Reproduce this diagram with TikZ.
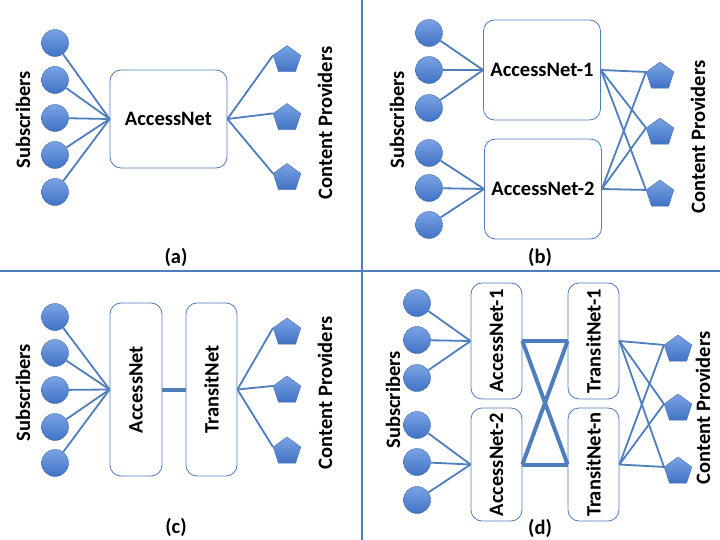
\documentclass[tikz,border=0pt]{standalone}
\usepackage{fontspec}
\setmainfont{Carlito}
\usetikzlibrary{shapes.geometric, positioning}
\definecolor{netblue}{RGB}{79, 126, 189}
\definecolor{dotlight}{RGB}{122, 163, 228}
\definecolor{dotdark}{RGB}{64, 114, 196}
\definecolor{dotedge}{RGB}{62, 106, 172}

\tikzset{
  sub/.style={circle, minimum size=27pt, inner sep=0pt, draw=dotedge, top color=dotlight, bottom color=dotdark},
  prov/.style={regular polygon, regular polygon sides=5, minimum size=29pt, inner sep=0pt, draw=dotedge, top color=dotlight, bottom color=dotdark},
  net/.style={draw=netblue, fill=white, rounded corners=11pt, inner sep=0pt, line width=0.8pt, font=\bfseries\fontsize{20.5}{24}\selectfont},
  link/.style={draw=netblue, line width=1.8pt},
  trunk/.style={draw=netblue, line width=4pt},
  side/.style={inner sep=0pt, font=\bfseries\fontsize{20.5}{24}\selectfont},
  tag/.style={inner sep=0pt, font=\bfseries\fontsize{20.5}{24}\selectfont},
}

\begin{document}
\begin{tikzpicture}[x=1pt, y=-1pt]
  \useasboundingbox (0,0) rectangle (720,540);
  % quadrant dividers
  \draw[netblue, line width=2.5pt] (0,271) -- (720,271);
  \draw[netblue, line width=2.5pt] (362,0) -- (362,540);

  % (a) one access network
  \node[net, minimum width=117pt, minimum height=98pt] (an) at (168.5,119) {AccessNet};
  \foreach \y [count=\i] in {43,80,118,155,192} {
    \node[sub] (as\i) at (55,\y) {};
    \draw[link] (as\i) -- (an.west);
  }
  \foreach \y [count=\i] in {60,118,178} {
    \node[prov] (ap\i) at (287,\y) {};
    \draw[link] (an.east) -- (ap\i.corner 2);
  }
  \node[side] (asub) at (23,120) {\rotatebox{90}{Subscribers}};
  \node[side] (acp) at (325,123) {\rotatebox{90}{Content Providers}};
  \node[tag] (atag) at (176,257) {(a)};

  % (b) two access networks
  \node[net, minimum width=117pt, minimum height=100pt] (bn1) at (542,70) {AccessNet-1};
  \node[net, minimum width=117pt, minimum height=100pt] (bn2) at (543,189) {AccessNet-2};
  \foreach \y [count=\i] in {33,70,108} {
    \node[sub] (bs\i) at (429,\y) {};
    \draw[link] (bs\i) -- (bn1.west);
  }
  \foreach \y [count=\i] in {153,188,225} {
    \node[sub] (bt\i) at (429,\y) {};
    \draw[link] (bt\i) -- (bn2.west);
  }
  \foreach \y [count=\i] in {76.5,132.5,194.5} {
    \node[prov] (bp\i) at (660,\y) {};
    \draw[link] (bn1.east) -- (bp\i.corner 2);
    \draw[link] (bn2.east) -- (bp\i.corner 2);
  }
  \node[side] (bsub) at (397,120) {\rotatebox{90}{Subscribers}};
  \node[side] (bcp) at (698,137) {\rotatebox{90}{Content Providers}};
  \node[tag] (btag) at (540,257) {(b)};

  % (c) access plus transit
  \node[net, minimum width=52pt, minimum height=173pt] (cn) at (136,389.5) {\rotatebox{90}{AccessNet}};
  \node[net, minimum width=51pt, minimum height=173pt] (ct) at (211.5,389.5) {\rotatebox{90}{TransitNet}};
  \draw[trunk] (cn.east) -- (ct.west);
  \foreach \y [count=\i] in {317,353,390,427,463} {
    \node[sub] (cs\i) at (55,\y) {};
    \draw[link] (cs\i) -- (cn.west);
  }
  \foreach \y [count=\i] in {332.5,390.5,451.5} {
    \node[prov] (cp\i) at (287,\y) {};
    \draw[link] (ct.east) -- (cp\i.corner 2);
  }
  \node[side] (csub) at (23,393) {\rotatebox{90}{Subscribers}};
  \node[side] (ccp) at (325,393) {\rotatebox{90}{Content Providers}};
  \node[tag] (ctag) at (176,527) {(c)};

  % (d) two access, n transit
  \node[net, minimum width=51pt, minimum height=116pt] (dn1) at (496.5,341) {\rotatebox{90}{AccessNet-1}};
  \node[net, minimum width=51pt, minimum height=113pt] (dn2) at (496.5,464.5) {\rotatebox{90}{AccessNet-2}};
  \node[net, minimum width=51pt, minimum height=116pt] (dt1) at (593.5,341) {\rotatebox{90}{TransitNet-1}};
  \node[net, minimum width=51pt, minimum height=113pt] (dt2) at (593.5,464.5) {\rotatebox{90}{TransitNet-n}};
  \draw[trunk] (dn1.east) -- (dt1.west);
  \draw[trunk] (dn2.east) -- (dt2.west);
  \draw[trunk] (dn1.east) -- (dt2.west);
  \draw[trunk] (dn2.east) -- (dt1.west);
  \foreach \y [count=\i] in {303,340,378} {
    \node[sub] (ds\i) at (417,\y) {};
    \draw[link] (ds\i) -- (dn1.west);
  }
  \foreach \y [count=\i] in {425,462,500} {
    \node[sub] (dr\i) at (417,\y) {};
    \draw[link] (dr\i) -- (dn2.west);
  }
  \foreach \y [count=\i] in {349.5,408.5,471.5} {
    \node[prov] (dp\i) at (678,\y) {};
    \draw[link] (dt1.east) -- (dp\i.corner 2);
    \draw[link] (dt2.east) -- (dp\i.corner 2);
  }
  \node[side] (dsub) at (393,400) {\rotatebox{90}{Subscribers}};
  \node[side] (dcp) at (703,408) {\rotatebox{90}{Content Providers}};
  \node[tag] (dtag) at (540,528) {(d)};
\end{tikzpicture}
\end{document}
